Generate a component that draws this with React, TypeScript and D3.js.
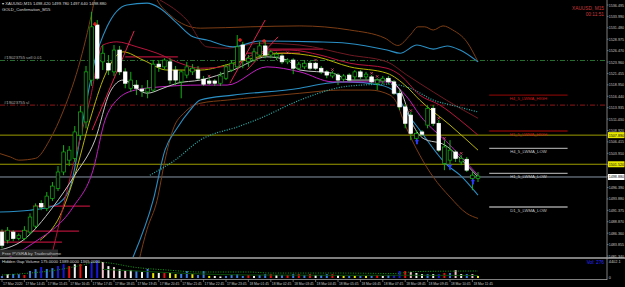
import React from "react";
import * as d3 from "d3";

// ---------- DATA ----------
const priceTicks = [1536.495, 1533.99, 1531.48, 1528.975, 1526.47, 1523.96, 1521.455, 1518.95, 1516.44, 1513.935, 1511.43, 1508.92, 1506.415, 1503.91, 1501.4, 1498.895, 1496.39, 1493.88, 1491.375, 1488.87, 1486.36, 1483.855, 1481.34];

const timeLabels = ["17 Mar 2020", "17 Mar 14:45", "17 Mar 15:45", "17 Mar 16:45", "17 Mar 17:45", "17 Mar 18:45", "17 Mar 19:45", "17 Mar 20:45", "17 Mar 21:45", "17 Mar 22:45", "17 Mar 23:45", "18 Mar 01:45", "18 Mar 02:45", "18 Mar 03:45", "18 Mar 04:45", "18 Mar 05:45", "18 Mar 06:45", "18 Mar 07:45", "18 Mar 08:45", "18 Mar 09:45", "18 Mar 10:45", "18 Mar 11:45"];

const opens = [1486.6,1484.8,1486.6,1485.2,1485.2,1486.6,1487.9,1492.9,1491.8,1494.0,
1496.2,1499.8,1502.4,1502.8,1507.9,1510.8,1520.0,1532.1,1524.0,1523.7,
1521.8,1526.6,1521.8,1518.2,1518.9,1518.0,1517.4,1517.8,1523.5,1522.9,
1524.0,1522.2,1519.6,1521.1,1521.8,1522.2,1520.2,1519.8,1519.8,1519.3,
1520.4,1522.2,1522.9,1527.7,1524.0,1524.4,1525.5,1527.5,1525.5,1525.1,
1525.3,1524.0,1524.4,1522.6,1522.9,1523.7,1523.7,1522.6,1521.8,1520.9,
1521.1,1520.2,1521.1,1520.7,1521.8,1520.7,1520.7,1519.3,1519.8,1520.4,
1519.6,1517.1,1514.1,1512.3,1507.2,1508.6,1510.1,1513.8,1510.5,1501.7,
1502.4,1504.2,1502.0,1502.6,1498.4,1498.4];
const closes = [1483.7,1487.0,1485.2,1485.9,1487.0,1489.9,1492.3,1492.1,1494.5,1496.7,
1499.8,1504.2,1504.6,1508.6,1513.0,1521.8,1531.7,1520.4,1525.9,1522.2,
1526.6,1521.8,1519.3,1520.0,1518.2,1517.6,1518.2,1523.5,1522.9,1524.4,
1520.0,1520.0,1521.8,1522.9,1522.6,1520.4,1519.1,1519.3,1519.3,1520.9,
1522.9,1523.7,1527.3,1524.4,1524.8,1526.2,1527.5,1525.5,1526.2,1525.7,
1524.0,1524.4,1522.6,1523.5,1523.7,1522.6,1522.6,1521.8,1521.1,1521.5,
1520.0,1520.9,1520.0,1521.8,1520.7,1521.3,1519.6,1520.0,1520.4,1519.6,
1517.1,1514.1,1510.5,1508.3,1508.3,1508.1,1513.8,1510.5,1504.6,1505.3,
1504.6,1502.8,1502.8,1500.2,1499.1,1498.9];
const highs = [1487.2,1487.7,1487.0,1486.3,1487.9,1490.7,1492.9,1493.6,1495.4,1497.6,
1501.1,1505.7,1505.5,1509.9,1514.3,1523.1,1535.0,1533.2,1527.7,1525.5,
1527.7,1527.5,1522.6,1521.8,1520.0,1518.9,1520.0,1524.4,1524.4,1524.8,
1524.8,1523.1,1522.2,1524.0,1523.5,1523.1,1520.9,1520.4,1520.2,1521.8,
1523.5,1524.4,1529.9,1528.4,1525.5,1527.0,1528.4,1528.6,1526.6,1526.2,
1525.7,1524.8,1524.8,1524.0,1524.4,1524.2,1524.0,1523.1,1522.2,1522.0,
1521.5,1521.3,1521.5,1522.2,1522.2,1521.8,1521.1,1520.4,1520.9,1520.9,
1520.0,1517.8,1514.7,1513.0,1509.0,1509.0,1514.5,1514.5,1511.2,1506.8,
1506.8,1504.6,1503.5,1503.1,1499.8,1499.8];
const lows = [1483.0,1484.1,1484.6,1484.8,1484.8,1486.1,1487.4,1491.4,1491.2,1493.4,
1495.6,1499.1,1501.1,1502.0,1506.8,1509.4,1518.7,1520.0,1522.2,1521.1,
1520.9,1521.1,1518.2,1517.4,1516.7,1516.3,1516.0,1517.4,1521.8,1522.2,
1519.1,1518.9,1516.0,1520.4,1521.1,1520.0,1518.7,1518.9,1518.7,1518.7,
1520.0,1521.8,1522.6,1522.6,1522.9,1524.0,1524.8,1524.8,1524.8,1524.4,
1523.5,1523.5,1521.3,1522.2,1522.4,1522.2,1522.2,1521.3,1520.4,1520.4,
1518.9,1519.6,1519.6,1520.0,1520.2,1520.0,1519.1,1517.8,1519.1,1519.1,
1516.7,1513.4,1509.4,1506.8,1506.4,1507.7,1509.4,1509.9,1504.2,1500.2,
1500.2,1502.0,1501.3,1499.8,1495.8,1497.6];

const volumes = [452,908,934,875,702,1630,2051,2540,2093,2288,2771,3205,2744,3198,3240,2790,3655,4128,3702,2745,2512,2061,1833,1862,1604,1377,2085,1139,1162,1148,1170,915,931,1618,904,688,1597,471,455,352,478,703,925,466,681,
470,690,918,905,688,702,690,925,910,695,921,683,699,912,905,688,462,455,470,448,466,459,694,471,702,688,1612,1598,1385,1158,924,905,918,931,1149,1162,1835,920,912,905,462];
const volumeKinds = ["B","W","B","B","R","B","B","D","B","B","D","D","R","W","R","W","D","D","P","W","P","W","P","W","B","W","B","Y","W","R","Y","Y","B","B","Y","B","B","Y","W","W","B","B","B","B","R",
"W","B","B","R","W","B","R","B","R","B","R","W","B","B","R","W","Y","B","Y","B","Y","B","R","W","B","D","D","R","P","W","W","B","W","D","R","B","P","W","B","P","Y"];
const volAvgDotted: [number, number][] = [[0,690],[5,1150],[9.8,1850],[14,2900],[17,3700],[19.3,3460],[23.4,2540],[29.5,1850],[35.4,1390],[44,1390],[48,1150],[60,1150],[70,1040],[74,1500],[85,1620]];
const volAvgSolid: [number, number][] = [[18,2000],[26,1500],[34,1000],[44,700],[60,620],[72,640],[85,580]];

// indicator lines: [bar, price]
const bandUpperBrown: [number, number][] = [[-0.5,1503.9],[1.5,1503.1],[3,1502.4],[6,1502.8],[8.5,1506.8],[11,1513.4],[14,1524.4],[16.5,1537.6],[17.5,1544.2],[21,1555.2],[25,1546.4],[27.7,1537.6],[30,1534.3],[32.7,1532.1],[35.4,1531.4],[44.3,1531.7],[53.2,1531.9],[62.1,1531.0],[68.4,1529.2],[70.7,1527.6],[72.9,1529.9],[74.3,1531.7],[75.5,1531.7],[77,1531.0],[78.75,1531.9],[80.5,1531.0],[83,1528.4],[85,1524.0]];
const bandUpperCyan: [number, number][] = [[-0.5,1491.0],[5,1491.4],[9.5,1492.5],[12,1495.8],[14.8,1513.4],[16.6,1524.4],[18.75,1531.7],[22.3,1536.5],[25.9,1536.9],[28.2,1535.8],[31.25,1532.5],[34.1,1529.5],[36.6,1528.8],[41.25,1527.3],[46.1,1528.6],[56.25,1528.4],[61.6,1528.1],[68.75,1526.6],[71.1,1525.9],[74.1,1527.7],[77,1526.8],[79.5,1527.5],[81.8,1526.6],[85,1524.0]];
const bandLowerBrown: [number, number][] = [[22.9,1471.6],[25.9,1487.2],[27.7,1493.6],[29.1,1502.4],[30.5,1509.0],[32.7,1513.0],[35.4,1514.9],[40.2,1515.6],[46.1,1516.3],[53.2,1517.1],[60.4,1517.8],[65.7,1517.8],[69.3,1516.7],[70.2,1515.6],[72,1510.1],[74.6,1503.5],[77,1498.7],[80,1494.3],[83,1490.7],[85,1489.6]];
const bandLowerCyan: [number, number][] = [[23.4,1481.1],[27,1493.6],[29.1,1504.6],[31.25,1509.4],[33.6,1513.4],[35.4,1515.6],[41.25,1516.7],[53.2,1518.2],[58,1519.3],[61.6,1519.6],[67.5,1518.9],[70.2,1517.4],[72,1513.4],[74.6,1509.0],[79.5,1501.3],[81.8,1499.1],[85,1494.7]];
const maTealDotted: [number, number][] = [[26.4,1499.1],[30.9,1502.4],[35.4,1506.8],[42.5,1509.9],[46.1,1511.6],[53.2,1515.6],[62.1,1518.7],[69.3,1519.1],[72.9,1518.2],[77,1515.6],[80.9,1514.3],[85,1513.0]];
const maYellow: [number, number][] = [[6.8,1484.8],[10.4,1490.3],[13,1499.1],[15.7,1511.2],[18.4,1521.1],[21.6,1526.2],[25.2,1524.4],[29.5,1522.2],[35.4,1522.2],[41.25,1523.7],[50.2,1525.9],[56.25,1525.1],[62.1,1522.9],[68.75,1521.5],[72.3,1518.5],[74.6,1515.6],[80,1510.1],[85,1504.6]];
const maGray: [number, number][] = [[-0.5,1482.6],[3.75,1484.8],[9.1,1492.1],[13,1499.1],[16.6,1506.8],[19.3,1517.4],[21.6,1520.0],[25.9,1517.1],[28.75,1518.2],[31.25,1519.3],[35.4,1520.0],[41.25,1522.2],[47.3,1525.1],[50.9,1524.4],[53.2,1522.2],[59.1,1521.5],[62.1,1520.0],[68.75,1520.0],[71.1,1517.8],[73.4,1510.1],[75.2,1507.2],[79.1,1505.7],[83,1501.3],[85,1498.7]];
const maMagenta: [number, number][] = [[-0.5,1480.0],[5.5,1484.1],[12.7,1492.1],[16.25,1500.2],[18.4,1511.2],[20.5,1515.6],[23.75,1517.8],[28.2,1518.5],[35.4,1518.9],[40.2,1518.9],[47.3,1522.9],[53.2,1521.8],[59.1,1519.6],[68.75,1519.6],[72.3,1516.3],[74.6,1512.3],[80,1505.7],[85,1499.1]];
const maCrimson: [number, number][] = [[8.6,1480.0],[12.5,1500.2],[15.7,1515.6],[18,1527.7],[20.5,1528.4],[24.1,1527.3],[27.7,1525.9],[31.8,1523.7],[35.4,1522.6],[41.25,1523.3],[46.1,1526.2],[51.4,1526.6],[56.8,1525.5],[62.1,1523.7],[68.75,1522.6],[71.1,1521.1],[74.6,1516.7],[78.2,1514.5],[81.8,1511.2],[85,1507.9]];
const maMaroon: [number, number][] = [[28.2,1537.6],[33,1533.2],[36.6,1527.3],[40.2,1527.0],[46.1,1528.1],[53.2,1527.7],[62.1,1525.5],[68.75,1524.0],[72.3,1521.1],[77,1517.4],[81.8,1513.8],[85,1511.6]];

const trendLines: [number, number, number, number][] = [[16.1,1509.0,23.6,1530.8],[40.7,1519.3,47,1533.2],[43.75,1522.2,49.3,1529.5]];
const fractalLevels: [number, number, number][] = [[5.5,15.7,1492.3],[-1,13.75,1486.8],[-1,10.7,1484.4],[22,31.4,1525.1],[43.75,53.2,1525.9],[47,57.3,1526.8]];
const redCrosses: [number, number][] = [[16.6,1532.3],[42.5,1528.8],[46.8,1528.6]];
const pinkMarks: [number, number][] = [[37,1520.9],[51,1526.0],[56,1524.4],[59,1522.3],[66,1521.5],[67,1520.8],[73,1513.3],[78,1511.6],[79,1507.2],[82,1503.9]];
const blueArrows: [number, number][] = [[74.1,1506.4],[80,1500.9],[84.1,1497.6]];

const orderLevels = [
  { price: 1524.3, color: "#2a7a34", label: "#19023755 sell 0.01" },
  { price: 1514.5, color: "#a01818", label: "#19023755 sl" },
];
const solidLevels = [
  { price: 1507.9, color: "#9c9c00", tag: "1507.890", bg: "#e6e600" },
  { price: 1501.5, color: "#9c9c00", tag: "1501.520", bg: "#e6e600" },
  { price: 1498.7, color: "#8a96a6", tag: "1498.880", bg: "#ffffff" },
];
const lwmaLevels = [
  { price: 1516.7, name: "H4_5_LWMA_HIGH", kind: "high" },
  { price: 1508.8, name: "H1_5_LWMA_HIGH", kind: "high" },
  { price: 1505.0, name: "H4_5_LWMA_LOW", kind: "low" },
  { price: 1499.5, name: "H1_5_LWMA_LOW", kind: "low" },
  { price: 1492.1, name: "D1_5_LWMA_LOW", kind: "low" },
];

const volColorMap: Record<string, string> = { B: "#3d7ee6", D: "#1818d8", R: "#e81010", W: "#f2f2f2", P: "#f3c6cf", Y: "#e8e800" };

// ---------- CHART ----------
const PLOT_R = 607;
const MAIN_B = 257;
const FONT = "'Liberation Sans', Arial, sans-serif";

export default function App() {
  const x = d3.scaleLinear().domain([0, 85]).range([2, 478]);
  const y = d3.scaleLinear().domain([1481.34, 1536.495]).range([256, 5]);
  const vy = d3.scaleLinear().domain([0, 4402]).range([278, 259]);
  const mk = d3.line<[number, number]>().x((d) => x(d[0])).y((d) => y(d[1])).curve(d3.curveMonotoneX);
  const vmk = d3.line<[number, number]>().x((d) => x(d[0])).y((d) => vy(d[1])).curve(d3.curveMonotoneX);
  const bw = 3.6;
  const green = "#16b316";
  const idx = d3.range(opens.length);

  const lines: { d: [number, number][]; c: string; w: number; dash?: string }[] = [
    { d: bandUpperBrown, c: "#7c3d14", w: 1 },
    { d: bandLowerBrown, c: "#7c3d14", w: 1 },
    { d: maMaroon, c: "#6e1a22", w: 1 },
    { d: bandUpperCyan, c: "#2a8fc4", w: 1.1 },
    { d: bandLowerCyan, c: "#2a8fc4", w: 1.1 },
    { d: maTealDotted, c: "#27b6b0", w: 1.2, dash: "1,1.5" },
    { d: maYellow, c: "#b8b400", w: 1 },
    { d: maCrimson, c: "#b8143c", w: 1 },
    { d: maMagenta, c: "#c21fc2", w: 1 },
    { d: maGray, c: "#c4c4c4", w: 1 },
  ];

  return (
    <svg width={625} height={287} style={{ position: "absolute", left: 0, top: 0, background: "#000", display: "block" }} fontFamily={FONT}>
      <rect x={0} y={0} width={625} height={287} fill="#000" />
      <defs>
        <clipPath id="mainClip"><rect x={0} y={0} width={PLOT_R} height={MAIN_B} /></clipPath>
        <clipPath id="volClip"><rect x={0} y={259} width={PLOT_R} height={20} /></clipPath>
      </defs>

      <g clipPath="url(#mainClip)">
        {orderLevels.map((l, i) => (
          <g key={"ol" + i}>
            <line x1={0} x2={PLOT_R} y1={y(l.price)} y2={y(l.price)} stroke={l.color} strokeWidth={0.9} strokeDasharray="5,2,1,2" />
            <text x={4} y={y(l.price) - 1.5} fontSize={4.2} fill="#b0b0b0">{l.label}</text>
          </g>
        ))}
        {solidLevels.map((l, i) => (
          <line key={"sl" + i} x1={0} x2={PLOT_R} y1={y(l.price)} y2={y(l.price)} stroke={l.color} strokeWidth={1} />
        ))}

        {fractalLevels.map((f, i) => (
          <line key={"fl" + i} x1={x(f[0])} x2={x(f[1])} y1={y(f[2])} y2={y(f[2])} stroke="#b01238" strokeWidth={1.2} />
        ))}

        {lines.map((l, i) => (
          <path key={"ln" + i} d={mk(l.d) || ""} fill="none" stroke={l.c} strokeWidth={l.w} strokeDasharray={l.dash} />
        ))}
        {trendLines.map((t, i) => (
          <line key={"tl" + i} x1={x(t[0])} y1={y(t[1])} x2={x(t[2])} y2={y(t[3])} stroke="#e0224e" strokeWidth={1} />
        ))}

        {idx.map((i) => {
          const o = opens[i], c = closes[i];
          const bull = c >= o;
          const top = y(Math.max(o, c));
          const bot = y(Math.min(o, c));
          return (
            <g key={"c" + i}>
              <line x1={x(i)} x2={x(i)} y1={y(highs[i])} y2={y(lows[i])} stroke={green} strokeWidth={1} />
              <rect x={x(i) - bw / 2} y={top} width={bw} height={Math.max(bot - top, 0.8)}
                fill={bull ? "#000" : "#ffffff"} stroke={bull ? green : "#ffffff"} strokeWidth={0.7} />
            </g>
          );
        })}

        {redCrosses.map((p, i) => (
          <g key={"rc" + i} stroke="#ff2020" strokeWidth={1.2}>
            <line x1={x(p[0]) - 2} x2={x(p[0]) + 2} y1={y(p[1])} y2={y(p[1])} />
            <line x1={x(p[0])} x2={x(p[0])} y1={y(p[1]) - 2} y2={y(p[1]) + 2} />
          </g>
        ))}
        {pinkMarks.map((p, i) => (
          <path key={"pm" + i} d={`M${x(p[0]) - 1.2},${y(p[1]) - 1.2}L${x(p[0]) + 1.2},${y(p[1]) + 1.2}M${x(p[0]) + 1.2},${y(p[1]) - 1.2}L${x(p[0]) - 1.2},${y(p[1]) + 1.2}`} stroke="#e0506e" strokeWidth={0.8} />
        ))}
        {blueArrows.map((p, i) => (
          <path key={"ba" + i} transform={`translate(${x(p[0])},${y(p[1])})`} d="M0,-3.2L2.3,-0.8L0.9,-0.8L0.9,2.4L-0.9,2.4L-0.9,-0.8L-2.3,-0.8Z" fill="#2a3cff" />
        ))}

        {lwmaLevels.map((l, i) => (
          <g key={"lw" + i}>
            <line x1={x(87)} x2={x(101)} y1={y(l.price)} y2={y(l.price)} stroke={l.kind === "high" ? "#7a0606" : "#9c9c9c"} strokeWidth={1.4} />
            <text x={(x(87) + x(101)) / 2} y={y(l.price) + 4.6} fontSize={4.2} textAnchor="middle" fill={l.kind === "high" ? "#d01818" : "#c8c8c8"}>{l.name}</text>
          </g>
        ))}

        <text x={2} y={5} fontSize={4.2} fill="#d8d8d8">▾ XAUUSD,M15  1498.420 1499.780 1497.640 1498.880</text>
        <text x={2} y={10.5} fontSize={4.2} fill="#d8d8d8">GOLD_Confirmation_M15</text>
        <text x={604} y={10} fontSize={4.8} fill="#c83a3a" textAnchor="end">XAUUSD, M15</text>
        <text x={604} y={16} fontSize={4.8} fill="#c83a3a" textAnchor="end">00:11:51</text>
        <rect x={0} y={249.5} width={58} height={7} fill="#2a2a2a" />
        <text x={2} y={255} fontSize={4.4} fill="#bdbdbd">Free PVSRA by Traderathome</text>
      </g>

      <g clipPath="url(#volClip)">
        {idx.map((i) => (
          <rect key={"v" + i} x={x(i) - 1} width={2} y={vy(volumes[i])} height={vy(0) - vy(volumes[i])} fill={volColorMap[volumeKinds[i]]} />
        ))}
        <path d={vmk(volAvgSolid) || ""} fill="none" stroke="#0b4d0b" strokeWidth={1} />
        <path d={vmk(volAvgDotted) || ""} fill="none" stroke="#12a012" strokeWidth={1} strokeDasharray="1,1.5" />
      </g>
      <text x={2} y={263} fontSize={4.2} fill="#d8d8d8">Hidden Gap Volume 175.0000 1389.0000 1365.0000</text>
      <text x={604} y={264} fontSize={4.8} fill="#2a2aff" textAnchor="end">Vol: 276</text>

      <line x1={0} x2={625} y1={258} y2={258} stroke="#a8a8a8" strokeWidth={1.5} />
      <line x1={0} x2={PLOT_R} y1={279.5} y2={279.5} stroke="#a0a0a0" strokeWidth={0.8} />
      <line x1={PLOT_R} x2={PLOT_R} y1={0} y2={280} stroke="#a0a0a0" strokeWidth={0.8} />

      {priceTicks.map((p, i) => (
        <g key={"pt" + i}>
          <line x1={PLOT_R} x2={PLOT_R + 1.5} y1={y(p)} y2={y(p)} stroke="#a0a0a0" strokeWidth={0.6} />
          <text x={608.8} y={y(p) + 1.5} fontSize={3.9} fill="#c8c8c8" textLength={15.2} lengthAdjust="spacingAndGlyphs">{d3.format(".3f")(p)}</text>
        </g>
      ))}
      {solidLevels.map((l, i) => (
        <g key={"tag" + i}>
          <rect x={608} y={y(l.price) - 3} width={16.5} height={6} fill={l.bg} />
          <text x={608.8} y={y(l.price) + 1.5} fontSize={3.9} fill="#000" textLength={15.2} lengthAdjust="spacingAndGlyphs">{l.tag}</text>
        </g>
      ))}
      <text x={608.8} y={262.5} fontSize={3.9} fill="#c8c8c8">4402.1</text>
      <text x={608.8} y={279} fontSize={3.9} fill="#c8c8c8">0</text>

      {timeLabels.map((t, k) => (
        <g key={"tm" + k}>
          <line x1={x(k * 4)} x2={x(k * 4)} y1={279.5} y2={282} stroke="#a0a0a0" strokeWidth={0.6} />
          <text x={x(k * 4) + 1} y={285} fontSize={3.9} fill="#c8c8c8" textLength={19.5} lengthAdjust="spacingAndGlyphs">{t}</text>
        </g>
      ))}
    </svg>
  );
}
